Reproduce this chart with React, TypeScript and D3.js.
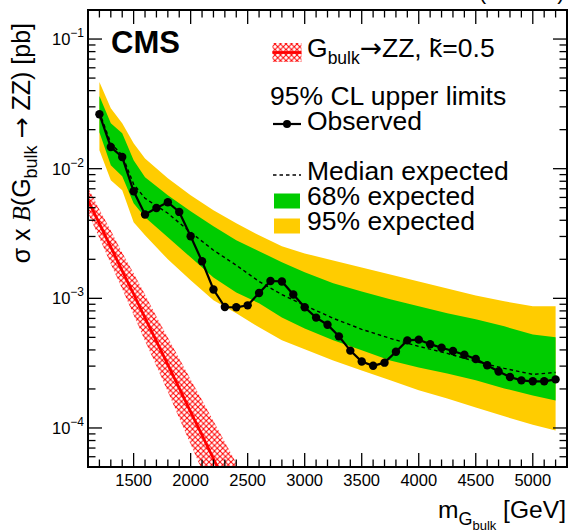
import React from 'react';
import * as d3 from 'd3';

const W = 570;
const H = 530;
const margin = { top: 10, right: 3, bottom: 63, left: 88 };

// observed 95% CL upper limit [pb]
const obsMass = [
  1200, 1300, 1400, 1500, 1600, 1700, 1800, 1900, 2000, 2100, 2200, 2300, 2400, 2500,
  2600, 2700, 2800, 2900, 3000, 3100, 3200, 3300, 3400, 3500, 3600, 3700, 3800, 3900,
  4000, 4100, 4200, 4300, 4400, 4500, 4600, 4700, 4800, 4900, 5000, 5100, 5200,
];
const obsLimit = [
  0.0263, 0.0147, 0.0123, 0.0067, 0.00443, 0.00498, 0.00551, 0.00464, 0.00301, 0.00193,
  0.00117, 0.000857, 0.000853, 0.000883, 0.0011, 0.00136, 0.00135, 0.00107, 0.000853,
  0.00071, 0.000626, 0.000509, 0.000395, 0.000326, 0.000302, 0.000319, 0.000387, 0.000474,
  0.00048, 0.000443, 0.000416, 0.000392, 0.000367, 0.00034, 0.000305, 0.000273, 0.000247,
  0.000233, 0.000229, 0.000229, 0.000237,
];

// expected limit and bands
const expMass = [
  1200, 1300, 1400, 1500, 1600, 1800, 2000, 2200, 2400, 2600, 2800, 3000, 3250, 3500,
  3750, 4000, 4250, 4500, 4750, 5000, 5200,
];
const expMedian = [
  0.0273, 0.0157, 0.0127, 0.00759, 0.00591, 0.00453, 0.00323, 0.00235, 0.0018, 0.00135,
  0.00107, 0.000883, 0.000701, 0.000577, 0.000491, 0.000426, 0.000376, 0.000326, 0.000288,
  0.000259, 0.000268,
];
const exp68Up = [
  0.0363, 0.0224, 0.0188, 0.01164, 0.0086, 0.00624, 0.0047, 0.0036, 0.00281, 0.00231,
  0.0019, 0.00159, 0.00131, 0.00113, 0.000982, 0.000868, 0.000766, 0.000689, 0.000608,
  0.000527, 0.0005,
];
const exp68Down = [
  0.0191, 0.01064, 0.00875, 0.00542, 0.00422, 0.00296, 0.00207, 0.00145, 0.00111, 0.000915,
  0.000713, 0.000586, 0.000474, 0.000397, 0.000332, 0.000293, 0.000263, 0.000233, 0.000202,
  0.000178, 0.000163,
];
const exp95Up = [
  0.0466, 0.0293, 0.0224, 0.0157, 0.012, 0.00845, 0.00624, 0.00478, 0.0038, 0.00306,
  0.00252, 0.00222, 0.00196, 0.00173, 0.00153, 0.00135, 0.00119, 0.00105, 0.000948,
  0.000868, 0.000868,
];
const exp95Down = [
  0.0139, 0.00815, 0.00682, 0.00386, 0.00306, 0.002, 0.00138, 0.000966, 0.000766, 0.000597,
  0.000474, 0.000404, 0.000332, 0.000278, 0.000233, 0.000195, 0.000169, 0.000144, 0.000123,
  0.000106, 0.0000957,
];

// bulk graviton theory cross section
const thMass = [1000, 1100, 1200, 1300, 1400, 1500, 1600, 1700, 1800, 1900, 2000, 2100, 2200, 2300, 2400];
const thXsec = [
  0.00867, 0.00571, 0.00377, 0.00248, 0.00163, 0.00108, 0.000708, 0.000467, 0.000308,
  0.000203, 0.000133, 0.0000879, 0.0000579, 0.0000381, 0.0000251,
];
const thUp = [
  0.01067, 0.00719, 0.00485, 0.00334, 0.00225, 0.00156, 0.00107, 0.000723, 0.000499,
  0.000344, 0.000237, 0.000164, 0.000113, 0.0000778, 0.0000537,
];
const thDown = [
  0.00705, 0.00454, 0.00292, 0.00184, 0.00118, 0.000745, 0.000468, 0.000301, 0.00019,
  0.000119, 0.000075, 0.0000472, 0.0000297, 0.0000187, 0.0000117,
];

const xTickValues = [1500, 2000, 2500, 3000, 3500, 4000, 4500, 5000];
const yTickValues = [1e-4, 1e-3, 1e-2, 1e-1];
const yTickExp = ['\u22124', '\u22123', '\u22122', '\u22121'];

const FONT = '"Liberation Sans", Arial, Helvetica, sans-serif';
const ARROW_FONT = '"DejaVu Sans", sans-serif';
const GREEN = '#00cc00';
const YELLOW = '#ffcc00';

const App: React.FC = () => {
  const x = d3.scaleLinear().domain([1100, 5300]).range([margin.left, W - margin.right]);
  const y = d3.scaleLog().domain([5e-5, 0.1675]).range([H - margin.bottom, margin.top]);
  const x0 = margin.left;
  const x1 = W - margin.right;
  const y0 = H - margin.bottom;
  const y1 = margin.top;

  const band = (lo: number[], hi: number[], xs: number[]) =>
    d3
      .area<number>()
      .x((_, i) => x(xs[i]))
      .y0((_, i) => y(lo[i]))
      .y1((_, i) => y(hi[i]))(xs) || '';

  const line = (vals: number[], xs: number[]) =>
    d3
      .line<number>()
      .x((_, i) => x(xs[i]))
      .y((_, i) => y(vals[i]))(xs) || '';

  const minorX = d3.range(1100, 5301, 100).filter(m => m % 500 !== 0);
  const minorY: number[] = [];
  [-5, -4, -3, -2, -1].forEach(k => {
    for (let j = 2; j <= 9; j++) {
      const v = j * Math.pow(10, k);
      if (v >= 5e-5 && v <= 0.1675) minorY.push(v);
    }
  });

  const majT = 14;
  const minT = 7.5;

  return (
    <svg
      width={W}
      height={H}
      style={{ position: 'absolute', left: 0, top: 0, background: '#fff' }}
      fontFamily={FONT}
    >
      <defs>
        <clipPath id="plotArea">
          <rect x={x0} y={y1} width={x1 - x0} height={y0 - y1} />
        </clipPath>
        <pattern id="hatch" patternUnits="userSpaceOnUse" width={5.5} height={5.5}>
          <path d="M0,0 L5.5,5.5 M0,5.5 L5.5,0" stroke="#ff0000" strokeWidth={1} />
        </pattern>
      </defs>

      <text x={565} y={-1} textAnchor="end" fontSize={23}>
        35.9 fb<tspan fontSize={15} dy={-9}>{'\u22121'}</tspan>
        <tspan dy={9}> (13 TeV)</tspan>
      </text>

      <g clipPath="url(#plotArea)">
        <path d={band(exp95Down, exp95Up, expMass)} fill={YELLOW} />
        <path d={band(exp68Down, exp68Up, expMass)} fill={GREEN} />
        <path
          d={line(expMedian, expMass)}
          fill="none"
          stroke="#000"
          strokeWidth={1.4}
          strokeDasharray="3.5,3"
        />
        <path d={band(thDown, thUp, thMass)} fill="url(#hatch)" />
        <path d={line(thXsec, thMass)} fill="none" stroke="#ff0000" strokeWidth={2.8} />
        <path d={line(obsLimit, obsMass)} fill="none" stroke="#000" strokeWidth={2.2} />
        {obsMass.map((m, i) => (
          <circle key={m} cx={x(m)} cy={y(obsLimit[i])} r={4.2} fill="#000" />
        ))}
      </g>

      {/* ticks */}
      <g stroke="#000" strokeWidth={1.3}>
        {xTickValues.map(t => (
          <g key={'xm' + t}>
            <line x1={x(t)} x2={x(t)} y1={y0} y2={y0 - majT} />
            <line x1={x(t)} x2={x(t)} y1={y1} y2={y1 + majT} />
          </g>
        ))}
        {minorX.map(t => (
          <g key={'xn' + t}>
            <line x1={x(t)} x2={x(t)} y1={y0} y2={y0 - minT} />
            <line x1={x(t)} x2={x(t)} y1={y1} y2={y1 + minT} />
          </g>
        ))}
        {yTickValues.map(t => (
          <g key={'ym' + t}>
            <line x1={x0} x2={x0 + majT} y1={y(t)} y2={y(t)} />
            <line x1={x1} x2={x1 - majT} y1={y(t)} y2={y(t)} />
          </g>
        ))}
        {minorY.map(t => (
          <g key={'yn' + t}>
            <line x1={x0} x2={x0 + minT} y1={y(t)} y2={y(t)} />
            <line x1={x1} x2={x1 - minT} y1={y(t)} y2={y(t)} />
          </g>
        ))}
      </g>
      <rect x={x0} y={y1} width={x1 - x0} height={y0 - y1} fill="none" stroke="#000" strokeWidth={2} />

      {/* tick labels */}
      {xTickValues.map(t => (
        <text key={'xl' + t} x={x(t)} y={y0 + 19} textAnchor="middle" fontSize={16.5}>
          {t}
        </text>
      ))}
      {yTickValues.map((t, i) => (
        <text key={'yl' + t} x={84} y={y(t) + 6} textAnchor="end" fontSize={16.5}>
          10<tspan fontSize={12} dy={-8}>{yTickExp[i]}</tspan>
        </text>
      ))}

      {/* axis titles */}
      <text x={566} y={518} textAnchor="end" fontSize={24.6}>
        m<tspan fontSize={18} dy={7}>G</tspan>
        <tspan fontSize={13} dy={5}>bulk</tspan>
        <tspan fontSize={24.6} dy={-12}> [GeV]</tspan>
      </text>
      <text transform="translate(30,23) rotate(-90)" textAnchor="end" fontSize={25}>
        {'\u03c3 x '}
        <tspan fontStyle="italic" fontFamily='"Liberation Serif", serif'>B</tspan>
        (G<tspan fontSize={18} dy={7}>bulk</tspan>
        <tspan dy={-7}> </tspan>
        <tspan fontFamily={ARROW_FONT}>{'\u2192'}</tspan>
        <tspan>{' ZZ) [pb]'}</tspan>
      </text>

      <text x={111} y={53} fontSize={31} fontWeight="bold">
        CMS
      </text>

      {/* legend */}
      <g fontSize={26.5}>
        <rect x={272.5} y={43} width={29} height={19} fill="url(#hatch)" />
        <line x1={272.5} x2={301.5} y1={52.5} y2={52.5} stroke="#ff0000" strokeWidth={2.8} />
        <text x={307} y={56.7}>
          G<tspan fontSize={17.5} dy={7.3}>bulk</tspan>
          <tspan dy={-7.3} fontFamily={ARROW_FONT}>{'\u2192'}</tspan>
          <tspan>{'ZZ, k\u0303=0.5'}</tspan>
        </text>

        <text x={270} y={105}>95% CL upper limits</text>
        <line x1={273} x2={301} y1={124} y2={124} stroke="#000" strokeWidth={2.2} />
        <circle cx={287} cy={124} r={4} fill="#000" />
        <text x={307} y={130}>Observed</text>

        <line
          x1={273}
          x2={301}
          y1={175}
          y2={175}
          stroke="#000"
          strokeWidth={1.4}
          strokeDasharray="3.5,3"
        />
        <text x={307} y={180}>Median expected</text>
        <rect x={274} y={193.5} width={26} height={15} fill={GREEN} />
        <text x={307} y={205}>68% expected</text>
        <rect x={274} y={218.5} width={26} height={15} fill={YELLOW} />
        <text x={307} y={230}>95% expected</text>
      </g>
    </svg>
  );
};

export default App;
